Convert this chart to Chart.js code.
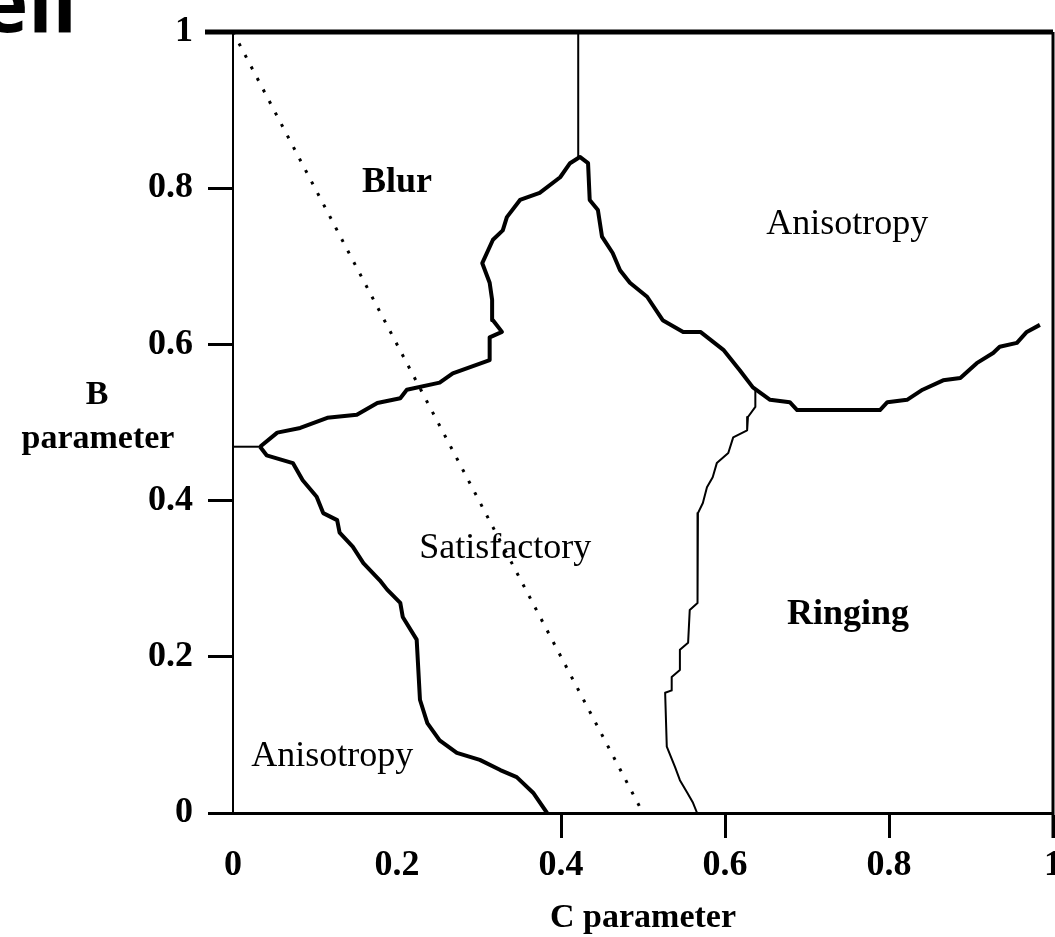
<!DOCTYPE html>
<html>
<head>
<meta charset="utf-8">
<title>B / C parameter regions</title>
<script src="https://cdn.jsdelivr.net/npm/chart.js@4.4.1/dist/chart.umd.min.js"></script>
<style>
  body { margin: 0; background: #fff; }
  #wrap { position: relative; width: 1055px; height: 937px; }
</style>
</head>
<body>
<div id="wrap"><canvas id="regionChart"></canvas></div>
<script>
// boundary curves (C on x, B on y)
const upperC = [0.033, 0.054, 0.082, 0.115, 0.151, 0.176, 0.204, 0.212, 0.252, 0.268, 0.313, 0.313, 0.328, 0.317,
  0.316, 0.313, 0.304, 0.317, 0.329, 0.334, 0.350, 0.374, 0.399, 0.411, 0.423, 0.433, 0.435, 0.445, 0.450, 0.463,
  0.472, 0.484, 0.505, 0.524, 0.549, 0.570, 0.598, 0.618, 0.634, 0.655, 0.679, 0.688, 0.789, 0.798, 0.822, 0.841,
  0.866, 0.887, 0.907, 0.927, 0.935, 0.956, 0.968, 0.984];
const upperB = [0.469, 0.487, 0.493, 0.506, 0.510, 0.525, 0.531, 0.542, 0.551, 0.563, 0.580, 0.609, 0.616, 0.631,
  0.657, 0.679, 0.704, 0.734, 0.746, 0.763, 0.785, 0.794, 0.814, 0.832, 0.840, 0.832, 0.785, 0.772, 0.738, 0.717,
  0.695, 0.679, 0.661, 0.631, 0.616, 0.616, 0.593, 0.567, 0.545, 0.529, 0.526, 0.516, 0.516, 0.526, 0.529, 0.542,
  0.554, 0.557, 0.576, 0.589, 0.597, 0.602, 0.616, 0.625];

const lowerC = [0.033, 0.041, 0.073, 0.085, 0.102, 0.110, 0.127, 0.130, 0.146, 0.159, 0.179, 0.188, 0.204, 0.207,
  0.224, 0.228, 0.237, 0.252, 0.273, 0.301, 0.326, 0.346, 0.366, 0.383];
const lowerB = [0.469, 0.458, 0.448, 0.426, 0.405, 0.384, 0.375, 0.359, 0.341, 0.320, 0.298, 0.286, 0.269, 0.251,
  0.222, 0.145, 0.115, 0.093, 0.077, 0.068, 0.055, 0.046, 0.026, 0];

const ringC = [0.637, 0.637, 0.628, 0.627, 0.610, 0.604, 0.590, 0.585, 0.578, 0.573, 0.567, 0.566, 0.567, 0.557,
  0.555, 0.545, 0.545, 0.535, 0.535, 0.527, 0.529, 0.539, 0.545, 0.554, 0.561, 0.566];
const ringB = [0.542, 0.520, 0.507, 0.490, 0.481, 0.461, 0.448, 0.430, 0.417, 0.397, 0.384, 0.315, 0.269, 0.260,
  0.218, 0.209, 0.183, 0.174, 0.157, 0.154, 0.085, 0.059, 0.042, 0.026, 0.013, 0];

const ridgeC = [0.421, 0.421];
const ridgeB = [1, 0.84];

const stubC = [0, 0.033];
const stubB = [0.469, 0.469];

// B + 2C = 1
const diagC = [0, 0.5];
const diagB = [1, 0];

const tickValues = [0, 0.2, 0.4, 0.6, 0.8, 1];

const regionNames = ['Blur', 'Anisotropy', 'Satisfactory', 'Ringing', 'Anisotropy'];
const regionC = [0.2, 0.749, 0.332, 0.75, 0.121];
const regionB = [0.807, 0.753, 0.338, 0.254, 0.072];
const regionBold = [true, false, false, true, false];

function pts(cs, bs) {
    return cs.map((c, i) => ({ x: c, y: bs[i] }));
}

function curve(label, cs, bs, width, dash) {
    return {
        label: label,
        data: pts(cs, bs),
        showLine: true,
        borderColor: '#000',
        backgroundColor: '#000',
        borderWidth: width,
        borderDash: dash || [],
        borderJoinStyle: 'round',
        pointRadius: 0,
        tension: 0
    };
}

const serif = '"Liberation Serif", "Times New Roman", serif';

// labels, frame top/right and page heading fragment
const extras = {
    id: 'extras',
    afterDraw(chart) {
        const { ctx, chartArea: a, scales: { x, y } } = chart;
        ctx.save();
        ctx.strokeStyle = '#000';
        ctx.fillStyle = '#000';

        ctx.lineWidth = 5;
        ctx.beginPath();
        ctx.moveTo(a.left - 28, a.top);
        ctx.lineTo(a.right, a.top);
        ctx.stroke();

        ctx.lineWidth = 3;
        ctx.beginPath();
        ctx.moveTo(a.right, a.top);
        ctx.lineTo(a.right, a.bottom + 25);
        ctx.stroke();

        ctx.textAlign = 'center';
        ctx.textBaseline = 'middle';
        regionNames.forEach((name, i) => {
            ctx.font = (regionBold[i] ? 'bold ' : '') + '36px ' + serif;
            ctx.fillText(name, x.getPixelForValue(regionC[i]), y.getPixelForValue(regionB[i]));
        });

        // y axis title, written flat to the left of the axis
        ctx.font = 'bold 34px ' + serif;
        ctx.fillText('B', 97, y.getPixelForValue(0.535));
        ctx.fillText('parameter', 98, y.getPixelForValue(0.478));

        // fragment of the slide heading
        ctx.font = 'bold 80px "Open Sans", sans-serif';
        ctx.textAlign = 'right';
        ctx.textBaseline = 'alphabetic';
        ctx.fillText('ell', 77, 32);
        ctx.restore();
    }
};

function noEdgePadding(scale) {
    scale.paddingLeft = 0;
    scale.paddingRight = 0;
    scale.paddingTop = 0;
    scale.paddingBottom = 0;
}

const ctx = document.getElementById('regionChart').getContext('2d');

new Chart(ctx, {
    type: 'scatter',
    data: {
        datasets: [
            curve('diagonal', diagC, diagB, 3, [3, 10]),
            curve('ridge', ridgeC, ridgeB, 2),
            curve('stub', stubC, stubB, 2),
            curve('upper', upperC, upperB, 4),
            curve('lower', lowerC, lowerB, 4),
            curve('ringing', ringC, ringB, 2)
        ]
    },
    options: {
        responsive: true,
        maintainAspectRatio: false,
        animation: false,
        layout: { padding: { left: 0, right: 2, top: 32, bottom: 0 } },
        plugins: {
            legend: { display: false },
            tooltip: { enabled: false }
        },
        scales: {
            x: {
                type: 'linear',
                min: 0,
                max: 1,
                afterFit(scale) { scale.height = 124; noEdgePadding(scale); },
                afterBuildTicks(scale) { scale.ticks = tickValues.map(v => ({ value: v })); },
                border: { display: true, color: '#000', width: 3 },
                grid: {
                    drawOnChartArea: false,
                    tickLength: 25,
                    tickWidth: 3,
                    tickColor: c => (c.tick && c.tick.value >= 0.4 ? '#000' : 'rgba(0,0,0,0)')
                },
                ticks: {
                    color: '#000',
                    padding: 10,
                    maxRotation: 0,
                    callback: v => String(v),
                    font: { family: serif, size: 36, weight: 'bold', lineHeight: 1 }
                },
                title: {
                    display: true,
                    text: 'C parameter',
                    color: '#000',
                    padding: { top: 0, bottom: 2 },
                    font: { family: serif, size: 34, weight: 'bold', lineHeight: 1 }
                }
            },
            y: {
                type: 'linear',
                min: 0,
                max: 1,
                afterFit(scale) { scale.width = 233; noEdgePadding(scale); },
                afterBuildTicks(scale) { scale.ticks = tickValues.map(v => ({ value: v })); },
                border: { display: true, color: '#000', width: 2 },
                grid: {
                    drawOnChartArea: false,
                    tickLength: 25,
                    tickWidth: 3,
                    tickColor: '#000'
                },
                ticks: {
                    color: '#000',
                    padding: 15,
                    callback: v => String(v),
                    font: { family: serif, size: 36, weight: 'bold', lineHeight: 1 }
                }
            }
        }
    },
    plugins: [extras]
});
</script>
</body>
</html>
